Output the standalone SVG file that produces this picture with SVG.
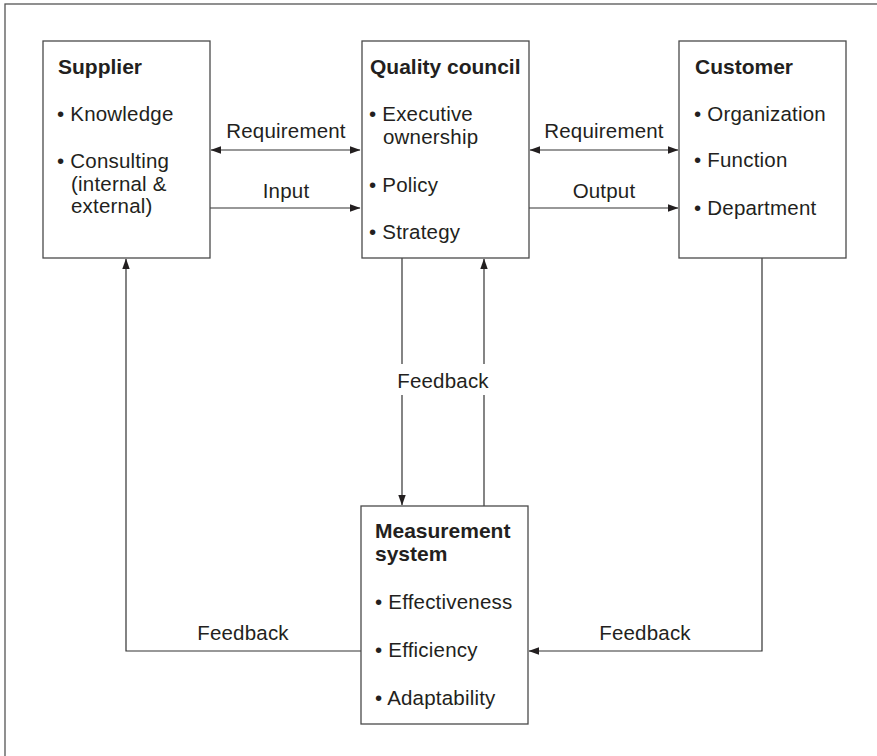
<svg xmlns="http://www.w3.org/2000/svg" width="877" height="756" viewBox="0 0 877 756">
<style>
text{font-family:"Liberation Sans",Arial,Helvetica,sans-serif;font-size:20.5px;fill:#231f20;letter-spacing:0.2px}
.b{font-weight:bold;font-size:21px;letter-spacing:0}
.box{fill:#fff;stroke:#4a4a4a;stroke-width:1.3}
.ln{fill:none;stroke:#333;stroke-width:1.2}
.c{text-anchor:middle}
</style>
<defs>
<marker id="ah" markerUnits="userSpaceOnUse" markerWidth="11" markerHeight="9" refX="10" refY="4.5" orient="auto-start-reverse" viewBox="0 0 11 9">
<path d="M0,0.8 L10.5,4.5 L0,8.2 Z" fill="#231f20"/>
</marker>
</defs>
<rect x="0" y="0" width="877" height="756" fill="#fff"/>
<rect x="5" y="4" width="900" height="800" fill="none" stroke="#555" stroke-width="1.3"/>
<g id="connectors">
<line class="ln" x1="211" y1="150" x2="360" y2="150" marker-start="url(#ah)" marker-end="url(#ah)"/>
<line class="ln" x1="210" y1="208" x2="360" y2="208" marker-end="url(#ah)"/>
<line class="ln" x1="530" y1="150" x2="678" y2="150" marker-start="url(#ah)" marker-end="url(#ah)"/>
<line class="ln" x1="529" y1="208" x2="678" y2="208" marker-end="url(#ah)"/>
<text class="c" x="286" y="138">Requirement</text>
<text class="c" x="286" y="198">Input</text>
<text class="c" x="604" y="138">Requirement</text>
<text class="c" x="604" y="198">Output</text>
<line class="ln" x1="402" y1="258" x2="402" y2="364"/>
<line class="ln" x1="402" y1="395" x2="402" y2="505" marker-end="url(#ah)"/>
<line class="ln" x1="484" y1="506" x2="484" y2="395"/>
<line class="ln" x1="484" y1="364" x2="484" y2="259" marker-end="url(#ah)"/>
<text class="c" x="443" y="388">Feedback</text>
<polyline class="ln" points="361,651 126,651 126,259" stroke="#555" marker-end="url(#ah)"/>
<polyline class="ln" points="762,258 762,651 529,651" marker-end="url(#ah)"/>
<text class="c" x="243" y="640">Feedback</text>
<text class="c" x="645" y="640">Feedback</text>
</g>
<g id="supplier">
<rect class="box" x="43" y="41" width="167" height="217"/>
<text class="b" x="58" y="74">Supplier</text>
<text x="57" y="121">• Knowledge</text>
<text x="57" y="168">• Consulting</text>
<text x="71" y="191">(internal &amp;</text>
<text x="71" y="213">external)</text>
</g>
<g id="quality-council">
<rect class="box" x="362" y="41" width="167" height="217"/>
<text class="b" x="370" y="74">Quality council</text>
<text x="369" y="121">• Executive</text>
<text x="383" y="144">ownership</text>
<text x="369" y="192">• Policy</text>
<text x="369" y="239">• Strategy</text>
</g>
<g id="customer">
<rect class="box" x="679" y="41" width="167" height="217"/>
<text class="b" x="695" y="74">Customer</text>
<text x="694" y="121">• Organization</text>
<text x="694" y="167">• Function</text>
<text x="694" y="215">• Department</text>
</g>
<g id="measurement-system">
<rect class="box" x="361" y="506" width="167" height="218"/>
<text class="b" x="375" y="538">Measurement</text>
<text class="b" x="375" y="561">system</text>
<text x="375" y="609">• Effectiveness</text>
<text x="375" y="657">• Efficiency</text>
<text x="375" y="705">• Adaptability</text>
</g>
</svg>
